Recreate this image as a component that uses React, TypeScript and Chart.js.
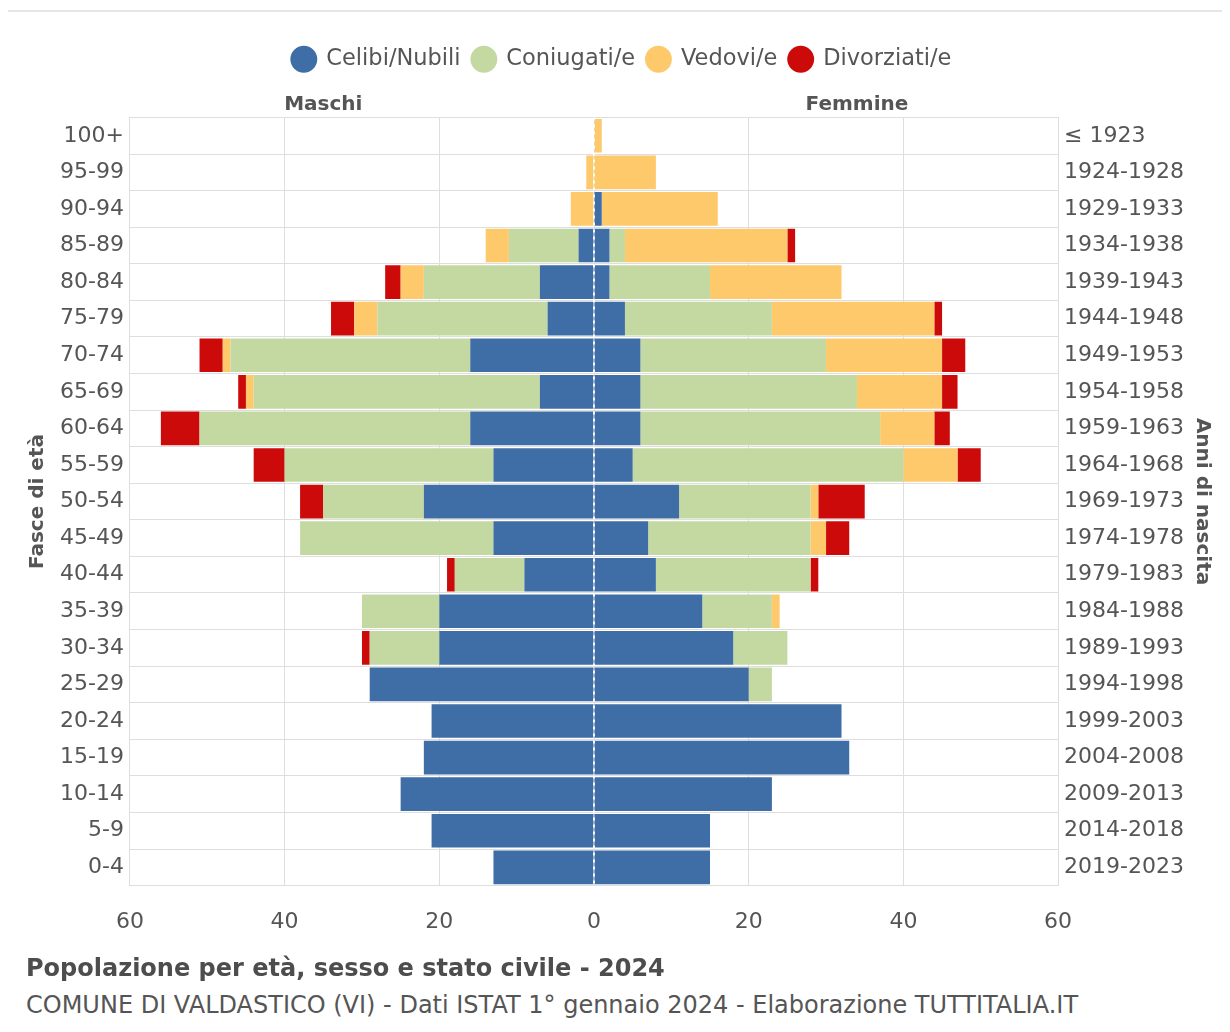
import { useEffect, useRef } from 'react';
import { Chart, registerables } from 'chart.js';

Chart.register(...registerables);

const FONT = '"DejaVu Sans", Verdana, sans-serif';
const TEXT = '#555555';

// age bands, top row first
const ages = ['100+', '95-99', '90-94', '85-89', '80-84', '75-79', '70-74', '65-69', '60-64', '55-59',
  '50-54', '45-49', '40-44', '35-39', '30-34', '25-29', '20-24', '15-19', '10-14', '5-9', '0-4'];

const birthYears = ['≤ 1923', '1924-1928', '1929-1933', '1934-1938', '1939-1943', '1944-1948', '1949-1953',
  '1954-1958', '1959-1963', '1964-1968', '1969-1973', '1974-1978', '1979-1983', '1984-1988', '1989-1993',
  '1994-1998', '1999-2003', '2004-2008', '2009-2013', '2014-2018', '2019-2023'];

const statusLabels = ['Celibi/Nubili', 'Coniugati/e', 'Vedovi/e', 'Divorziati/e'];
const statusColors = ['#3f6ea6', '#c4d9a1', '#fec96b', '#cc0a0a'];

// males
const maleSingle = [0, 0, 0, 2, 7, 6, 16, 7, 16, 13, 22, 13, 9, 20, 20, 29, 21, 22, 25, 21, 13];
const maleMarried = [0, 0, 0, 9, 15, 22, 31, 37, 35, 27, 13, 25, 9, 10, 9, 0, 0, 0, 0, 0, 0];
const maleWidowed = [0, 1, 3, 3, 3, 3, 1, 1, 0, 0, 0, 0, 0, 0, 0, 0, 0, 0, 0, 0, 0];
const maleDivorced = [0, 0, 0, 0, 2, 3, 3, 1, 5, 4, 3, 0, 1, 0, 1, 0, 0, 0, 0, 0, 0];

// females
const femaleSingle = [0, 0, 1, 2, 2, 4, 6, 6, 6, 5, 11, 7, 8, 14, 18, 20, 32, 33, 23, 15, 15];
const femaleMarried = [0, 0, 0, 2, 13, 19, 24, 28, 31, 35, 17, 21, 20, 9, 7, 3, 0, 0, 0, 0, 0];
const femaleWidowed = [1, 8, 15, 21, 17, 21, 15, 11, 7, 7, 1, 2, 0, 1, 0, 0, 0, 0, 0, 0, 0];
const femaleDivorced = [0, 0, 0, 1, 0, 1, 3, 2, 2, 3, 6, 3, 1, 0, 0, 0, 0, 0, 0, 0, 0];

const xTicks = [-60, -40, -20, 0, 20, 40, 60];

export default function App(): JSX.Element {
  const canvasRef = useRef<HTMLCanvasElement>(null);

  useEffect(() => {
    if (!canvasRef.current) return;
    Chart.defaults.font.family = FONT;
    Chart.defaults.color = TEXT;

    const males = [maleSingle, maleMarried, maleWidowed, maleDivorced];
    const females = [femaleSingle, femaleMarried, femaleWidowed, femaleDivorced];

    const datasets = [
      ...males.map((vals, i) => ({
        label: statusLabels[i],
        data: vals.map(v => -v),
        backgroundColor: statusColors[i],
      })),
      ...females.map((vals, i) => ({
        label: statusLabels[i],
        data: vals,
        backgroundColor: statusColors[i],
      })),
    ].map(ds => ({ ...ds, stack: 'pop', barPercentage: 0.92, categoryPercentage: 1, borderWidth: 0 }));

    // room for the Maschi / Femmine headers under the legend
    const legendSpace = {
      id: 'legendSpace',
      beforeInit(chart: any): void {
        const fit = chart.legend.fit;
        chart.legend.fit = function fitWithSpace(this: any) {
          fit.bind(chart.legend)();
          this.height += 37;
        };
      },
    };

    const overlay = {
      id: 'overlay',
      afterDatasetsDraw(chart: any): void {
        const { ctx, chartArea, scales } = chart;
        const x0 = scales.x.getPixelForValue(0);
        ctx.save();
        ctx.strokeStyle = 'rgba(255,255,255,0.9)';
        ctx.lineWidth = 2;
        ctx.setLineDash([3, 4]);
        ctx.beginPath();
        ctx.moveTo(x0, chartArea.top);
        ctx.lineTo(x0, chartArea.bottom);
        ctx.stroke();
        ctx.setLineDash([]);
        ctx.fillStyle = TEXT;
        ctx.font = `bold 20px ${FONT}`;
        ctx.textAlign = 'center';
        ctx.textBaseline = 'bottom';
        ctx.fillText('Maschi', scales.x.getPixelForValue(-35), chartArea.top - 3);
        ctx.fillText('Femmine', scales.x.getPixelForValue(34), chartArea.top - 3);
        ctx.restore();
      },
    };

    const chart = new Chart(canvasRef.current, {
      type: 'bar',
      data: { labels: ages, datasets },
      plugins: [legendSpace, overlay],
      options: {
        indexAxis: 'y',
        animation: false,
        responsive: true,
        maintainAspectRatio: false,
        layout: { padding: { top: 18, left: 18, right: 4, bottom: 0 } },
        plugins: {
          tooltip: { enabled: false },
          legend: {
            position: 'top',
            labels: {
              usePointStyle: true,
              pointStyle: 'circle',
              boxHeight: 19,
              padding: 12,
              color: TEXT,
              font: { size: 22.5 },
              filter: item => (item.datasetIndex ?? 0) < 4,
            },
          },
        },
        scales: {
          x: {
            stacked: true,
            min: -60,
            max: 60,
            afterBuildTicks: scale => { scale.ticks = xTicks.map(v => ({ value: v })); },
            ticks: {
              color: TEXT,
              font: { size: 22 },
              padding: 23,
              callback: v => String(Math.abs(Number(v))),
            },
            grid: { color: '#dedede', drawTicks: false },
            border: { display: false },
          },
          y: {
            stacked: true,
            ticks: { color: TEXT, font: { size: 22 }, padding: 6 },
            grid: { color: '#dedede', drawTicks: false },
            border: { color: '#dedede' },
            title: {
              display: true,
              text: 'Fasce di età',
              color: TEXT,
              font: { size: 20, weight: 'bold' },
              padding: { top: 0, bottom: 4 },
            },
          },
          y2: {
            type: 'category',
            labels: birthYears,
            position: 'right',
            offset: true,
            ticks: { color: TEXT, font: { size: 22 }, padding: 6 },
            grid: { display: false, drawTicks: false },
            border: { color: '#dedede' },
            title: {
              display: true,
              text: 'Anni di nascita',
              color: TEXT,
              font: { size: 20, weight: 'bold' },
              padding: { top: 4, bottom: 0 },
            },
          },
        },
      },
    });

    return () => { chart.destroy(); };
  }, []);

  return (
    <div style={{ position: 'relative', width: 1214, height: 1016, fontFamily: FONT }}>
      <div style={{ position: 'absolute', top: 2, left: 0, width: 1214, borderTop: '2px solid #e6e6e6' }} />
      <div style={{ position: 'absolute', top: 10, left: 0, width: 1214, height: 940 }}>
        <canvas ref={canvasRef} role="img" aria-label="Popolazione per età, sesso e stato civile - 2024" />
      </div>
      <div style={{ position: 'absolute', top: 945, left: 18, fontSize: 24, lineHeight: '30px', fontWeight: 'bold', color: '#4d4d4d', whiteSpace: 'nowrap' }}>
        Popolazione per età, sesso e stato civile - 2024
      </div>
      <div style={{ position: 'absolute', top: 983, left: 18, fontSize: 24, lineHeight: '28px', color: TEXT, whiteSpace: 'nowrap' }}>
        COMUNE DI VALDASTICO (VI) - Dati ISTAT 1° gennaio 2024 - Elaborazione TUTTITALIA.IT
      </div>
    </div>
  );
}
